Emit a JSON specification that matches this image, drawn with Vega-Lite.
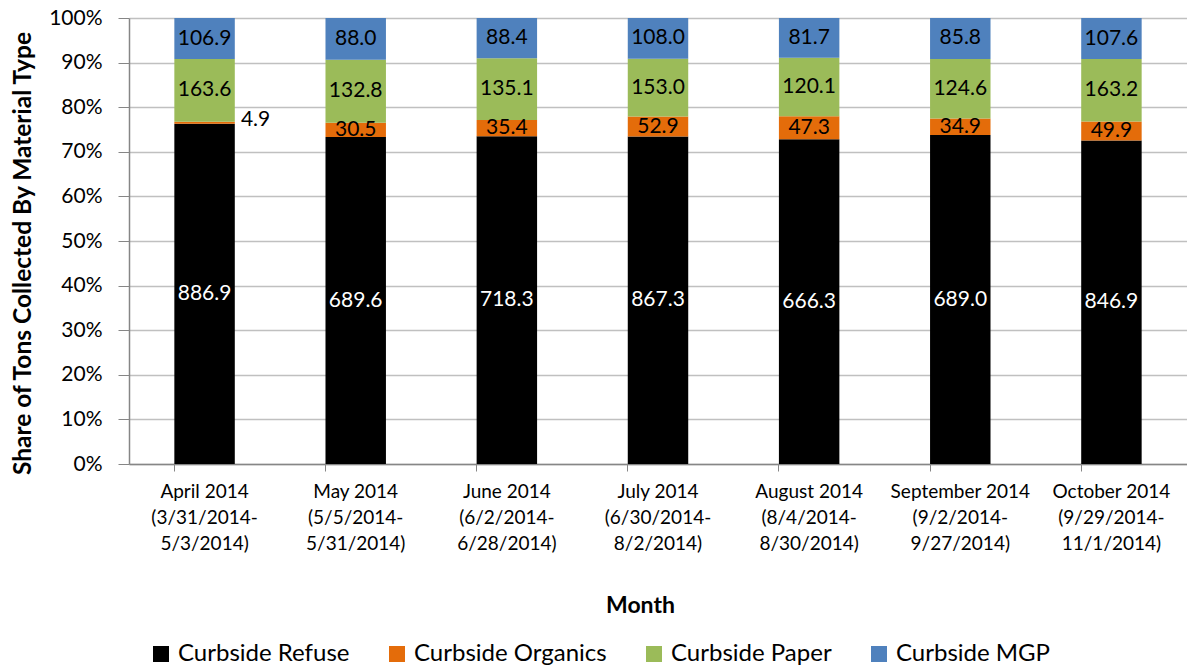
{
  "$schema": "https://vega.github.io/schema/vega-lite/v6.json",
  "width": 1058,
  "height": 446,
  "autosize": {"type": "none"},
  "padding": {"left": 129, "top": 18, "right": 0, "bottom": 205},
  "config": {"view": {"stroke": null}, "font": "Lato", "text": {"font": "Lato"}},
  "data": {
    "values": [
      {"month": "April 2014 (3/31/2014-5/3/2014)", "type": "Curbside Refuse", "tons": 886.9},
      {"month": "April 2014 (3/31/2014-5/3/2014)", "type": "Curbside Organics", "tons": 4.9},
      {"month": "April 2014 (3/31/2014-5/3/2014)", "type": "Curbside Paper", "tons": 163.6},
      {"month": "April 2014 (3/31/2014-5/3/2014)", "type": "Curbside MGP", "tons": 106.9},
      {"month": "May 2014 (5/5/2014-5/31/2014)", "type": "Curbside Refuse", "tons": 689.6},
      {"month": "May 2014 (5/5/2014-5/31/2014)", "type": "Curbside Organics", "tons": 30.5},
      {"month": "May 2014 (5/5/2014-5/31/2014)", "type": "Curbside Paper", "tons": 132.8},
      {"month": "May 2014 (5/5/2014-5/31/2014)", "type": "Curbside MGP", "tons": 88.0},
      {"month": "June 2014 (6/2/2014-6/28/2014)", "type": "Curbside Refuse", "tons": 718.3},
      {"month": "June 2014 (6/2/2014-6/28/2014)", "type": "Curbside Organics", "tons": 35.4},
      {"month": "June 2014 (6/2/2014-6/28/2014)", "type": "Curbside Paper", "tons": 135.1},
      {"month": "June 2014 (6/2/2014-6/28/2014)", "type": "Curbside MGP", "tons": 88.4},
      {"month": "July 2014 (6/30/2014-8/2/2014)", "type": "Curbside Refuse", "tons": 867.3},
      {"month": "July 2014 (6/30/2014-8/2/2014)", "type": "Curbside Organics", "tons": 52.9},
      {"month": "July 2014 (6/30/2014-8/2/2014)", "type": "Curbside Paper", "tons": 153.0},
      {"month": "July 2014 (6/30/2014-8/2/2014)", "type": "Curbside MGP", "tons": 108.0},
      {"month": "August 2014 (8/4/2014-8/30/2014)", "type": "Curbside Refuse", "tons": 666.3},
      {"month": "August 2014 (8/4/2014-8/30/2014)", "type": "Curbside Organics", "tons": 47.3},
      {"month": "August 2014 (8/4/2014-8/30/2014)", "type": "Curbside Paper", "tons": 120.1},
      {"month": "August 2014 (8/4/2014-8/30/2014)", "type": "Curbside MGP", "tons": 81.7},
      {"month": "September 2014 (9/2/2014-9/27/2014)", "type": "Curbside Refuse", "tons": 689.0},
      {"month": "September 2014 (9/2/2014-9/27/2014)", "type": "Curbside Organics", "tons": 34.9},
      {"month": "September 2014 (9/2/2014-9/27/2014)", "type": "Curbside Paper", "tons": 124.6},
      {"month": "September 2014 (9/2/2014-9/27/2014)", "type": "Curbside MGP", "tons": 85.8},
      {"month": "October 2014 (9/29/2014-11/1/2014)", "type": "Curbside Refuse", "tons": 846.9},
      {"month": "October 2014 (9/29/2014-11/1/2014)", "type": "Curbside Organics", "tons": 49.9},
      {"month": "October 2014 (9/29/2014-11/1/2014)", "type": "Curbside Paper", "tons": 163.2},
      {"month": "October 2014 (9/29/2014-11/1/2014)", "type": "Curbside MGP", "tons": 107.6}
    ]
  },
  "transform": [
    {"calculate": "indexof(['Curbside Refuse','Curbside Organics','Curbside Paper','Curbside MGP'], datum.type)", "as": "ord"}
  ],
  "encoding": {
    "x": {
      "field": "month",
      "type": "nominal",
      "sort": null,
      "scale": {"paddingInner": 0.6, "paddingOuter": 0.3},
      "axis": {
        "title": "Month",
        "labelExpr": "[slice(datum.label, 0, indexof(datum.label, ' (')), slice(datum.label, indexof(datum.label, ' (') + 1, indexof(datum.label, '-') + 1), slice(datum.label, indexof(datum.label, '-') + 1)]",
        "labelAngle": 0,
        "labelFontSize": 19,
        "labelLineHeight": 26,
        "labelColor": "#000000",
        "labelPadding": 11,
        "labelLimit": 0,
        "tickSize": 7,
        "tickColor": "#868686",
        "domainColor": "#868686",
        "domainWidth": 1.5,
        "bandPosition": 0,
        "grid": false,
        "titleFontSize": 23,
        "titleFontWeight": "bold",
        "titleColor": "#000000",
        "titleX": 511,
        "titleY": 141,
        "titleBaseline": "middle"
      }
    },
    "order": {"field": "ord", "type": "quantitative"}
  },
  "layer": [
    {
      "mark": {"type": "bar"},
      "encoding": {
        "y": {
          "field": "tons",
          "type": "quantitative",
          "stack": "normalize",
          "scale": {"domain": [0, 1]},
          "axis": {
            "title": "Share of Tons Collected By Material Type",
            "format": ".0%",
            "values": [0, 0.1, 0.2, 0.3, 0.4, 0.5, 0.6, 0.7, 0.8, 0.9, 1],
            "labelFontSize": 21,
            "labelColor": "#000000",
            "labelPadding": 16,
            "tickSize": 11,
            "tickColor": "#868686",
            "domainColor": "#868686",
            "domainWidth": 1.5,
            "gridColor": "#C0C0C0",
            "gridWidth": 1.3,
            "titleFontSize": 24.5,
            "titleFontWeight": "bold",
            "titleColor": "#000000",
            "titlePadding": 13,
            "titleY": 235
          }
        },
        "color": {
          "field": "type",
          "type": "nominal",
          "scale": {
            "domain": ["Curbside Refuse", "Curbside Organics", "Curbside Paper", "Curbside MGP"],
            "range": ["#000000", "#E46C0A", "#9BBB59", "#4F81BD"]
          },
          "legend": {
            "orient": "none",
            "legendX": 20,
            "legendY": 624,
            "direction": "horizontal",
            "title": null,
            "symbolType": "square",
            "symbolSize": 256,
            "symbolStrokeWidth": 0,
            "labelFontSize": 24,
            "labelColor": "#000000",
            "labelOffset": 5,
            "columnPadding": 35,
            "labelLimit": 0,
            "padding": 0
          }
        }
      }
    },
    {
      "mark": {"type": "text", "fontSize": 21, "baseline": "middle", "align": "center"},
      "encoding": {
        "y": {"field": "tons", "type": "quantitative", "stack": "normalize", "bandPosition": 0.5},
        "detail": {"field": "type"},
        "text": {"condition": {"test": "datum.tons < 10", "value": ""}, "field": "tons", "type": "quantitative", "format": ".1f"},
        "color": {"condition": {"test": "datum.type === 'Curbside Refuse'", "value": "#FFFFFF"}, "value": "#000000"}
      }
    },
    {
      "mark": {"type": "text", "fontSize": 21, "baseline": "middle", "align": "center", "dx": 51, "dy": -3},
      "encoding": {
        "y": {"field": "tons", "type": "quantitative", "stack": "normalize", "bandPosition": 0.5},
        "detail": {"field": "type"},
        "text": {"condition": {"test": "datum.tons >= 10", "value": ""}, "field": "tons", "type": "quantitative", "format": ".1f"},
        "color": {"value": "#000000"}
      }
    }
  ]
}
